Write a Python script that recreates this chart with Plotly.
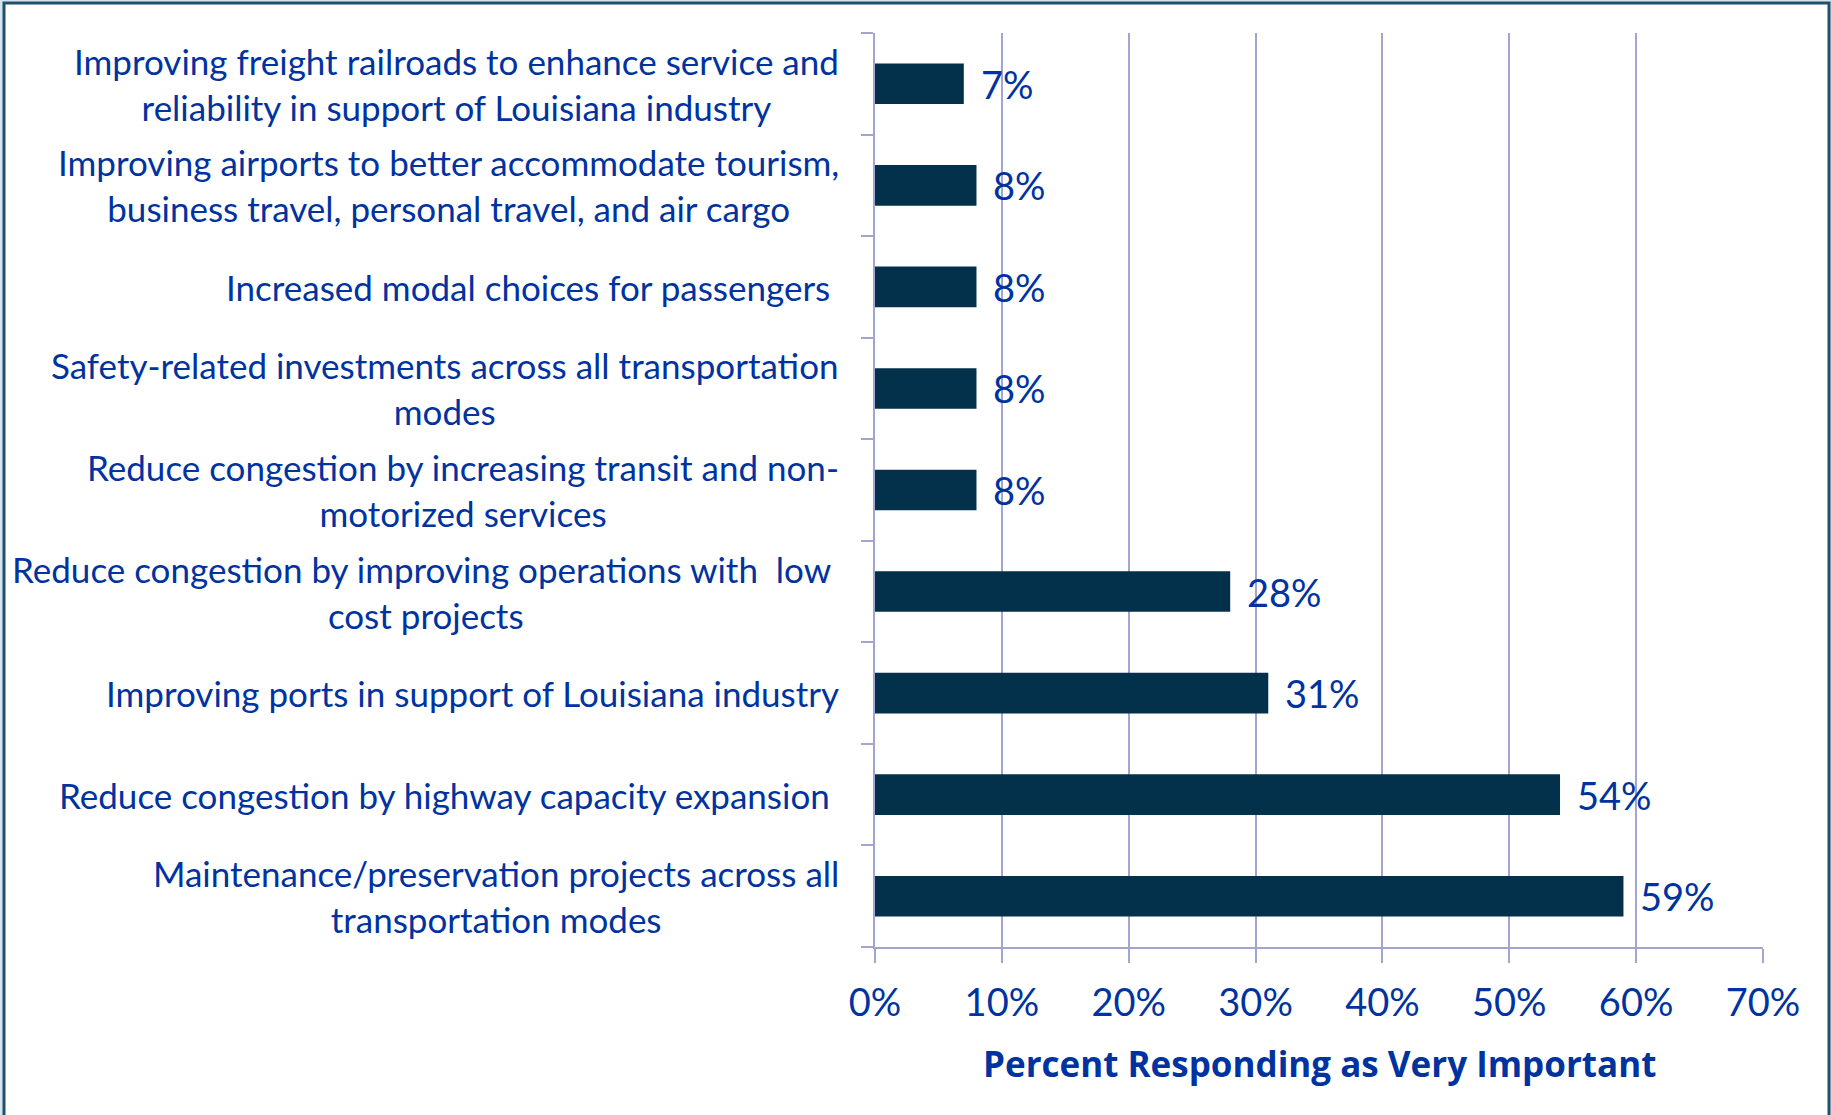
import plotly.graph_objects as go

categories = [
    "Improving freight railroads to enhance service and<br>reliability in support of Louisiana industry",
    "Improving airports to better accommodate tourism,<br>business travel, personal travel, and air cargo",
    "Increased modal choices for passengers ",
    "Safety-related investments across all transportation<br>modes",
    "Reduce congestion by increasing transit and non-<br>motorized services",
    "Reduce congestion by improving operations with  low <br>cost projects",
    "Improving ports in support of Louisiana industry",
    "Reduce congestion by highway capacity expansion ",
    "Maintenance/preservation projects across all<br>transportation modes",
]
values = [7, 8, 8, 8, 8, 28, 31, 54, 59]
value_labels = ["7%", "8%", "8%", "8%", "8%", "28%", "31%", "54%", "59%"]
x_ticks = [0, 10, 20, 30, 40, 50, 60, 70]
x_tick_labels = ["0%", "10%", "20%", "30%", "40%", "50%", "60%", "70%"]
x_title = "Percent Responding as Very Important"

W, H = 1831, 1115
L, R, T, B = 875, 68, 33, 168
PW, PH = W - L - R, H - T - B

TEXT = "#0033a0"
BAR = "#03304a"
GRID = "#a3a5d1"
FONT = "Lato"

ids = list(range(len(categories)))

fig = go.Figure()
fig.add_trace(go.Bar(
    x=values, y=ids, orientation="h",
    marker=dict(color=BAR, line=dict(width=0)),
    width=0.4, hoverinfo="skip",
))

annotations = []
for i, (v, lab) in enumerate(zip(values, value_labels)):
    annotations.append(dict(
        x=v, y=i, xref="x", yref="y", text=lab, showarrow=False,
        xanchor="left", yanchor="middle", xshift=15,
        font=dict(family=FONT, size=38, color=TEXT),
    ))
for i, c in enumerate(categories):
    annotations.append(dict(
        x=0, y=i, xref="paper", yref="y", text=c, showarrow=False,
        xanchor="right", yanchor="middle", xshift=-34, align="center",
        font=dict(family=FONT, size=35, color=TEXT),
    ))
annotations.append(dict(
    x=0.5, y=-0.127, xref="paper", yref="paper", text="<b>" + x_title + "</b>",
    showarrow=False, xanchor="center", yanchor="middle",
    font=dict(family="Open Sans", size=35, color=TEXT),
))

def px_x(X):
    return (X - L) / PW

def px_y(Y):
    return 1 - (Y - T) / PH

shapes = [
    dict(type="rect", xref="paper", yref="paper", layer="below",
         x0=px_x(4), x1=px_x(1829), y0=px_y(1200), y1=px_y(3),
         fillcolor="white", line=dict(color="#21506f", width=3)),
]

fig.update_layout(
    width=W, height=H,
    margin=dict(l=L, r=R, t=T, b=B),
    paper_bgcolor="#d6e4ef",
    plot_bgcolor="rgba(0,0,0,0)",
    showlegend=False,
    bargap=0.6,
    annotations=annotations,
    shapes=shapes,
    xaxis=dict(
        range=[0, 70], tickvals=x_ticks, ticktext=x_tick_labels,
        showgrid=True, gridcolor=GRID, gridwidth=1.5,
        showline=True, linecolor=GRID, linewidth=2,
        ticks="outside", ticklen=14, tickcolor=GRID, tickwidth=1.5,
        ticklabelstandoff=7,
        tickfont=dict(family=FONT, size=38, color=TEXT),
        zeroline=False, fixedrange=True,
    ),
    yaxis=dict(
        type="category", range=[len(categories) - 0.5, -0.5],
        tickvals=ids, showticklabels=False,
        tickson="boundaries", ticks="outside", ticklen=12,
        tickcolor=GRID, tickwidth=1.5,
        showline=True, linecolor=GRID, linewidth=2,
        showgrid=False, zeroline=False, fixedrange=True,
    ),
)

fig.write_html(
    "out.html",
    config={"displayModeBar": False},
    post_script="document.body.style.margin='0';document.body.style.overflow='hidden';",
)
